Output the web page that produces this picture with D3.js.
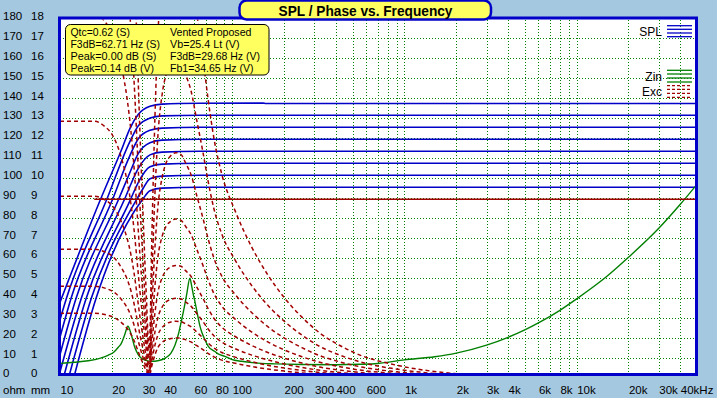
<!DOCTYPE html>
<html>
<head>
<meta charset="utf-8">
<script src="https://cdn.jsdelivr.net/npm/d3@7"></script>
<style>
  body { margin: 0; background: #a4c8e0; }
  svg { display: block; font-family: "Liberation Sans", Arial, sans-serif; }
</style>
</head>
<body>
<div id="wrapper"></div>
<script>
// ---- data ----
const xTicks = [10, 20, 30, 40, 60, 80, 100, 200, 300, 400, 600, 1000, 2000, 3000, 4000, 6000, 8000, 10000, 20000, 30000, 40000]
const xTickLabels = ["10", "20", "30", "40", "60", "80", "100", "200", "300", "400", "600", "1k", "2k", "3k", "4k", "6k", "8k", "10k", "20k", "30k", "40kHz"]
const ohmTicks = [0, 10, 20, 30, 40, 50, 60, 70, 80, 90, 100, 110, 120, 130, 140, 150, 160, 170, 180]
const mmTicks = [0, 1, 2, 3, 4, 5, 6, 7, 8, 9, 10, 11, 12, 13, 14, 15, 16, 17, 18]

const infoLeft = ["Qtc=0.62 (S)", "F3dB=62.71 Hz (S)", "Peak=0.00 dB (S)", "Peak=0.14 dB (V)"]
const infoRight = ["Vented Proposed", "Vb=25.4 Lt (V)", "F3dB=29.68 Hz (V)", "Fb1=34.65 Hz (V)"]

// SPL curves [Hz, dB]
const spl1 = [[10, 38], [17.2, 89.5], [22.7, 114], [25.5, 125], [28.5, 132], [33.3, 136], [39.1, 137.1], [64.9, 137.5], [151, 137.6], [157, 137.4], [50000, 137.4]]
const spl2 = [[10, 29.3], [10.9, 40], [18.7, 89.5], [25.5, 118.5], [28.5, 126.3], [33.3, 130.1], [39.1, 131.2], [64.9, 131.5], [50000, 131.5]]
const spl3 = [[10, 20.6], [11.6, 40], [20.2, 89.5], [25.5, 111.5], [28.5, 119.8], [33.3, 124], [39.1, 125.1], [64.9, 125.5], [50000, 125.5]]
const spl4 = [[10, 11.9], [12.4, 40], [21.9, 89.5], [25.5, 103], [28.5, 112.5], [33.3, 117.8], [39.1, 119.1], [64.9, 119.5], [50000, 119.5]]
const spl5 = [[10, 3.2], [13.3, 40], [23.7, 89.5], [28.5, 105], [33.3, 111.7], [39.1, 113.1], [64.9, 113.5], [50000, 113.5]]
const spl6 = [[10.45, 0], [14.2, 40], [25.7, 89.5], [28.5, 98], [33.3, 105.8], [39.1, 107.1], [64.9, 107.5], [50000, 107.5]]
const spl7 = [[11.2, 0], [15.2, 40], [27.9, 89.5], [30.2, 94.5], [33.3, 99.8], [39.1, 101.1], [64.9, 101.5], [50000, 101.5]]
const spl8 = [[12, 0], [16.2, 40], [30.2, 89.5], [33.3, 93.8], [39.1, 95.1], [64.9, 95.5], [50000, 95.5]]

// impedance [Hz, ohm]
const zin = [[10, 7.4], [12, 8], [14.6, 8.8], [17, 10], [19, 11.5], [20.5, 13], [21.8, 15.5], [22.7, 17.5], [23.7, 21.5], [24.8, 26],
  [25.8, 22.5], [27.1, 15.8], [28.4, 12], [29.7, 10], [31.5, 9], [34, 8.5], [37, 8.8], [40.6, 10], [44, 12.5], [46.5, 16.5],
  [48.7, 22], [50.8, 29], [52.8, 36], [54.4, 42], [56.8, 50], [58.2, 46], [59.4, 42], [60.7, 38.5], [62.2, 34], [64.6, 27],
  [66.6, 23], [68.8, 20], [72.6, 16], [79, 13.5], [82.8, 12.2], [90.6, 11], [99, 9.5], [113, 8.5], [135, 7.7], [177, 7.2],
  [250, 6.9], [400, 6.8], [550, 7], [700, 7.4], [1000, 9.2], [1500, 10.8], [2000, 12.6], [3000, 16.6], [4000, 20.5], [5000, 24.2],
  [6000, 27.7], [8000, 34], [10000, 39.7], [15000, 51], [20000, 60.5], [30000, 75], [40000, 87], [50000, 97]]

// cone excursion, values in 0.1 mm (same scale as the left column)
const excFreq = [10, 15.9, 18.2, 20, 21.4, 22.9, 24.5, 25.8, 26.9, 28, 29.1, 30.3, 31.5, 33, 34.2, 35.6, 37, 39.1, 41.2, 44.1, 47.1,
  50.4, 53.8, 57.6, 62.4, 67.6, 72.3, 78.3, 87.1, 104, 130, 161, 202, 254, 323, 422, 552, 824, 1230, 2100, 4690, 13700, 50000]
const exc1 = [32.5, 32.5, 31.9, 30.9, 29.6, 27.6, 25.0, 22.1, 18.9, 15.0, 11.1, 7.5, 4.2, 1.3, 6.5, 11.7, 15.3, 17.9, 19.2, 19.9, 20.2,
  20.0, 19.2, 18.2, 16.3, 14.3, 12.5, 10.7, 9.1, 7.5, 5.9, 4.6, 3.6, 2.7, 2.0, 1.5, 1.0, 0.7, 0.4, 0.2, 0.1, 0, 0]
const exc2 = [46, 46, 45.1, 43.7, 41.9, 39.1, 35.4, 31.3, 26.7, 21.2, 15.6, 10.6, 6.0, 1.8, 9.2, 16.6, 21.6, 25.3, 27.1, 28.2, 28.5,
  28.3, 27.1, 25.8, 23.0, 20.2, 17.7, 15.2, 12.9, 10.6, 8.3, 6.5, 5.1, 3.9, 2.9, 2.1, 1.5, 0.9, 0.6, 0.3, 0.1, 0, 0]
const exc3 = [64.5, 64.5, 63.2, 61.3, 58.7, 54.8, 49.7, 43.9, 37.4, 29.7, 21.9, 14.8, 8.4, 2.6, 12.9, 23.2, 30.3, 35.5, 38.1, 39.5, 40.0,
  39.7, 38.1, 36.1, 32.3, 28.4, 24.8, 21.3, 18.1, 14.8, 11.6, 9.2, 7.1, 5.4, 4.0, 2.9, 2.1, 1.3, 0.8, 0.4, 0.2, 0.1, 0]
const exc4 = [91, 91, 89.2, 86.5, 82.8, 77.4, 70.1, 61.9, 52.8, 41.9, 30.9, 20.9, 11.8, 3.6, 18.2, 32.8, 42.8, 50.1, 53.7, 55.7, 56.4,
  56.0, 53.7, 51.0, 45.5, 40.0, 35.0, 30.0, 25.5, 20.9, 16.4, 12.9, 10.0, 7.6, 5.6, 4.1, 2.9, 1.8, 1.1, 0.5, 0.3, 0.1, 0]
const exc5 = [128.5, 128.5, 125.9, 122.1, 116.9, 109.2, 98.9, 87.4, 74.5, 59.1, 43.7, 29.6, 16.7, 5.1, 25.7, 46.3, 60.4, 70.7, 75.8, 78.6, 79.7,
  79.0, 75.8, 72.0, 64.3, 56.5, 49.5, 42.4, 36.0, 29.6, 23.1, 18.2, 14.1, 10.8, 8.0, 5.8, 4.1, 2.6, 1.5, 0.8, 0.4, 0.1, 0]
const exc6 = [182, 182, 178.4, 172.9, 165.6, 154.7, 140.1, 123.8, 105.6, 83.7, 61.9, 41.9, 23.7, 7.3, 36.4, 65.5, 85.5, 100.1, 107.4, 111.4, 112.8,
  111.9, 107.4, 101.9, 91.0, 80.1, 70.1, 60.1, 51.0, 41.9, 32.8, 25.8, 20.0, 15.3, 11.3, 8.2, 5.8, 3.6, 2.2, 1.1, 0.5, 0.2, 0]
const exc7 = [257, 257, 251.9, 244.2, 233.9, 218.5, 197.9, 174.8, 149.1, 118.2, 87.4, 59.1, 33.4, 10.3, 51.4, 92.5, 120.8, 141.4, 151.6, 157.3, 159.3,
  158.1, 151.6, 143.9, 128.5, 113.1, 98.9, 84.8, 72.0, 59.1, 46.3, 36.5, 28.3, 21.6, 15.9, 11.6, 8.2, 5.1, 3.1, 1.5, 0.8, 0.3, 0]
const exc8 = [364, 364, 356.7, 345.8, 331.2, 309.4, 280.3, 247.5, 211.1, 167.4, 123.8, 83.7, 47.3, 14.6, 72.8, 131.0, 171.1, 200.2, 214.8, 222.8, 225.7,
  223.9, 214.8, 203.8, 182.0, 160.2, 140.1, 120.1, 101.9, 83.7, 65.5, 51.7, 40.0, 30.6, 22.6, 16.4, 11.6, 7.3, 4.4, 2.2, 1.1, 0.4, 0]

// Xmax marker: 8.95 mm from 15.8 Hz up
const xmaxMm = 8.95
const xmaxFrom = 15.8

// ---- chart ----
const dimensions = {
  width: 717,
  height: 398,
  plot: { left: 59.5, top: 18, right: 696.5, bottom: 374.5 },
}

const colors = {
  blue: "#0000c8",
  green: "#008000",
  red: "#a00000",
  yellow: "#ffff60",
}

// the original uses a narrow bitmap font, so each info line is squeezed to its width
const infoLayout = {
  left: { x: 70.5, widths: [59.5, 89.5, 86, 83.5] },
  right: { x: 170, widths: [81.5, 69.5, 90, 83.5] },
}

const svg = d3.select("#wrapper")
  .append("svg")
    .attr("width", dimensions.width)
    .attr("height", dimensions.height)

const xScale = d3.scaleLog()
  .domain([10, 50000])
  .range([60, 697])

const yScale = d3.scaleLinear()
  .domain([0, 180])
  .range([378.3, 18.3])

// tick labels sit a little above their grid lines in the original
const labelScale = d3.scaleLinear()
  .domain([0, 180])
  .range([373.3, 16])
const mmLabelScale = d3.scaleLinear()
  .domain([0, 18])
  .range([373.3, 16])

const p = dimensions.plot

// plot background
svg.append("rect")
    .attr("x", p.left)
    .attr("y", p.top)
    .attr("width", p.right - p.left)
    .attr("height", p.bottom - p.top)
    .attr("fill", "#ffffff")

svg.append("clipPath")
    .attr("id", "plot-clip")
  .append("rect")
    .attr("x", p.left + 1.5)
    .attr("y", p.top + 1.5)
    .attr("width", p.right - p.left - 3)
    .attr("height", p.bottom - p.top - 3)

// grid
const gridTicks = xScale.ticks().filter(d => d > 10 && d < 50000)
const xGrid = svg.append("g")
    .attr("transform", `translate(0, ${p.bottom})`)
    .call(d3.axisBottom(xScale).tickValues(gridTicks).tickSize(-(p.bottom - p.top)).tickFormat(""))
const yGrid = svg.append("g")
    .attr("transform", `translate(${p.left}, 0)`)
    .call(d3.axisLeft(yScale).tickValues(d3.range(10, 180, 10)).tickSize(-(p.right - p.left)).tickFormat(""))
;[xGrid, yGrid].forEach(g => {
  g.select(".domain").remove()
  g.selectAll(".tick line")
      .attr("stroke", colors.green)
      .attr("stroke-width", 1)
      .attr("stroke-dasharray", "1,2")
      .attr("shape-rendering", "crispEdges")
})

const plotArea = svg.append("g")
    .attr("clip-path", "url(#plot-clip)")

const lineGen = d3.line()
  .x(d => xScale(d[0]))
  .y(d => yScale(d[1]))
  .curve(d3.curveMonotoneX)

// SPL
const splCurves = [spl1, spl2, spl3, spl4, spl5, spl6, spl7, spl8]
plotArea.append("g")
  .selectAll("path")
  .data(splCurves)
  .join("path")
    .attr("d", lineGen)
    .attr("fill", "none")
    .attr("stroke", colors.blue)
    .attr("stroke-width", 1.6)

// impedance
plotArea.append("path")
    .attr("d", lineGen(zin))
    .attr("fill", "none")
    .attr("stroke", colors.green)
    .attr("stroke-width", 1.4)

// excursion
const excCurves = [exc1, exc2, exc3, exc4, exc5, exc6, exc7, exc8]
  .map(values => values.map((v, i) => [excFreq[i], v]))
plotArea.append("g")
  .selectAll("path")
  .data(excCurves)
  .join("path")
    .attr("d", lineGen)
    .attr("fill", "none")
    .attr("stroke", colors.red)
    .attr("stroke-width", 1.5)
    .attr("stroke-dasharray", "4,3")

plotArea.append("path")
    .attr("d", lineGen([[xmaxFrom, xmaxMm * 10], [50000, xmaxMm * 10]]))
    .attr("stroke", colors.red)
    .attr("stroke-width", 1.5)

// legend
const legend = svg.append("g")
const legendItems = [
  { label: "SPL", y: 31.5, lines: [25.7, 29.3, 33, 36.7], color: colors.blue, dash: null },
  { label: "Zin", y: 76.5, lines: [70.3, 74, 78, 82], color: colors.green, dash: null },
  { label: "Exc", y: 91.5, lines: [85.7, 89.3, 93.3, 97.3], color: colors.red, dash: "3,2" },
]
legendItems.forEach(item => {
  legend.append("text")
      .attr("x", 662)
      .attr("y", item.y)
      .attr("dy", "0.35em")
      .attr("text-anchor", "end")
      .attr("font-size", 12)
      .text(item.label)
  legend.selectAll(null)
    .data(item.lines)
    .join("line")
      .attr("x1", 667)
      .attr("x2", 692)
      .attr("y1", d => d)
      .attr("y2", d => d)
      .attr("stroke", item.color)
      .attr("stroke-width", 1.3)
      .attr("stroke-dasharray", item.dash)
})

// plot frame
svg.append("rect")
    .attr("x", p.left)
    .attr("y", p.top)
    .attr("width", p.right - p.left)
    .attr("height", p.bottom - p.top)
    .attr("fill", "none")
    .attr("stroke", colors.blue)
    .attr("stroke-width", 3)

// info box
const info = svg.append("g")
info.append("rect")
    .attr("x", 65.5)
    .attr("y", 24.5)
    .attr("width", 203.5)
    .attr("height", 50.5)
    .attr("rx", 5)
    .attr("fill", colors.yellow)
    .attr("stroke", "#000000")
    .attr("stroke-width", 1)
;[[infoLeft, infoLayout.left], [infoRight, infoLayout.right]].forEach(([lines, layout]) => {
  info.selectAll(null)
    .data(lines)
    .join("text")
      .attr("x", layout.x)
      .attr("y", (d, i) => 32.3 + i * 12.1)
      .attr("dy", "0.36em")
      .attr("font-size", 10.5)
      .attr("textLength", (d, i) => layout.widths[i])
      .attr("lengthAdjust", "spacingAndGlyphs")
      .text(d => d)
})

// title
svg.append("rect")
    .attr("x", 239.5)
    .attr("y", 0.5)
    .attr("width", 251.5)
    .attr("height", 19)
    .attr("rx", 7)
    .attr("fill", colors.yellow)
    .attr("stroke", colors.blue)
    .attr("stroke-width", 2.5)
svg.append("text")
    .attr("x", 365.5)
    .attr("y", 11)
    .attr("dy", "0.36em")
    .attr("text-anchor", "middle")
    .attr("font-size", 15)
    .attr("font-weight", "bold")
    .attr("textLength", 174)
    .attr("lengthAdjust", "spacingAndGlyphs")
    .text("SPL / Phase vs. Frequency")

// axes labels
const styleLabels = g => {
  g.select(".domain").remove()
  g.selectAll(".tick line").remove()
  g.selectAll("text")
      .attr("font-size", 11.5)
      .attr("font-family", "Liberation Sans, Arial, sans-serif")
      .attr("fill", "#000000")
}

svg.append("g")
    .attr("transform", "translate(0, 0)")
    .call(d3.axisRight(labelScale).tickValues(ohmTicks).tickSize(0).tickPadding(3))
    .call(styleLabels)
svg.append("g")
    .attr("transform", "translate(28, 0)")
    .call(d3.axisRight(mmLabelScale).tickValues(mmTicks).tickSize(0).tickPadding(3))
    .call(styleLabels)

svg.append("g")
    .attr("transform", "translate(0, 383)")
    .call(d3.axisBottom(xScale).tickValues(xTicks).tickFormat((d, i) => xTickLabels[i]).tickSize(0).tickPadding(3))
    .call(styleLabels)
    .selectAll("text")
      .attr("text-anchor", "start")

svg.append("text")
    .attr("x", 3)
    .attr("y", 390)
    .attr("dy", "0.35em")
    .attr("font-size", 11.5)
    .text("ohm")
svg.append("text")
    .attr("x", 31)
    .attr("y", 390)
    .attr("dy", "0.35em")
    .attr("font-size", 11.5)
    .text("mm")
</script>
</body>
</html>
